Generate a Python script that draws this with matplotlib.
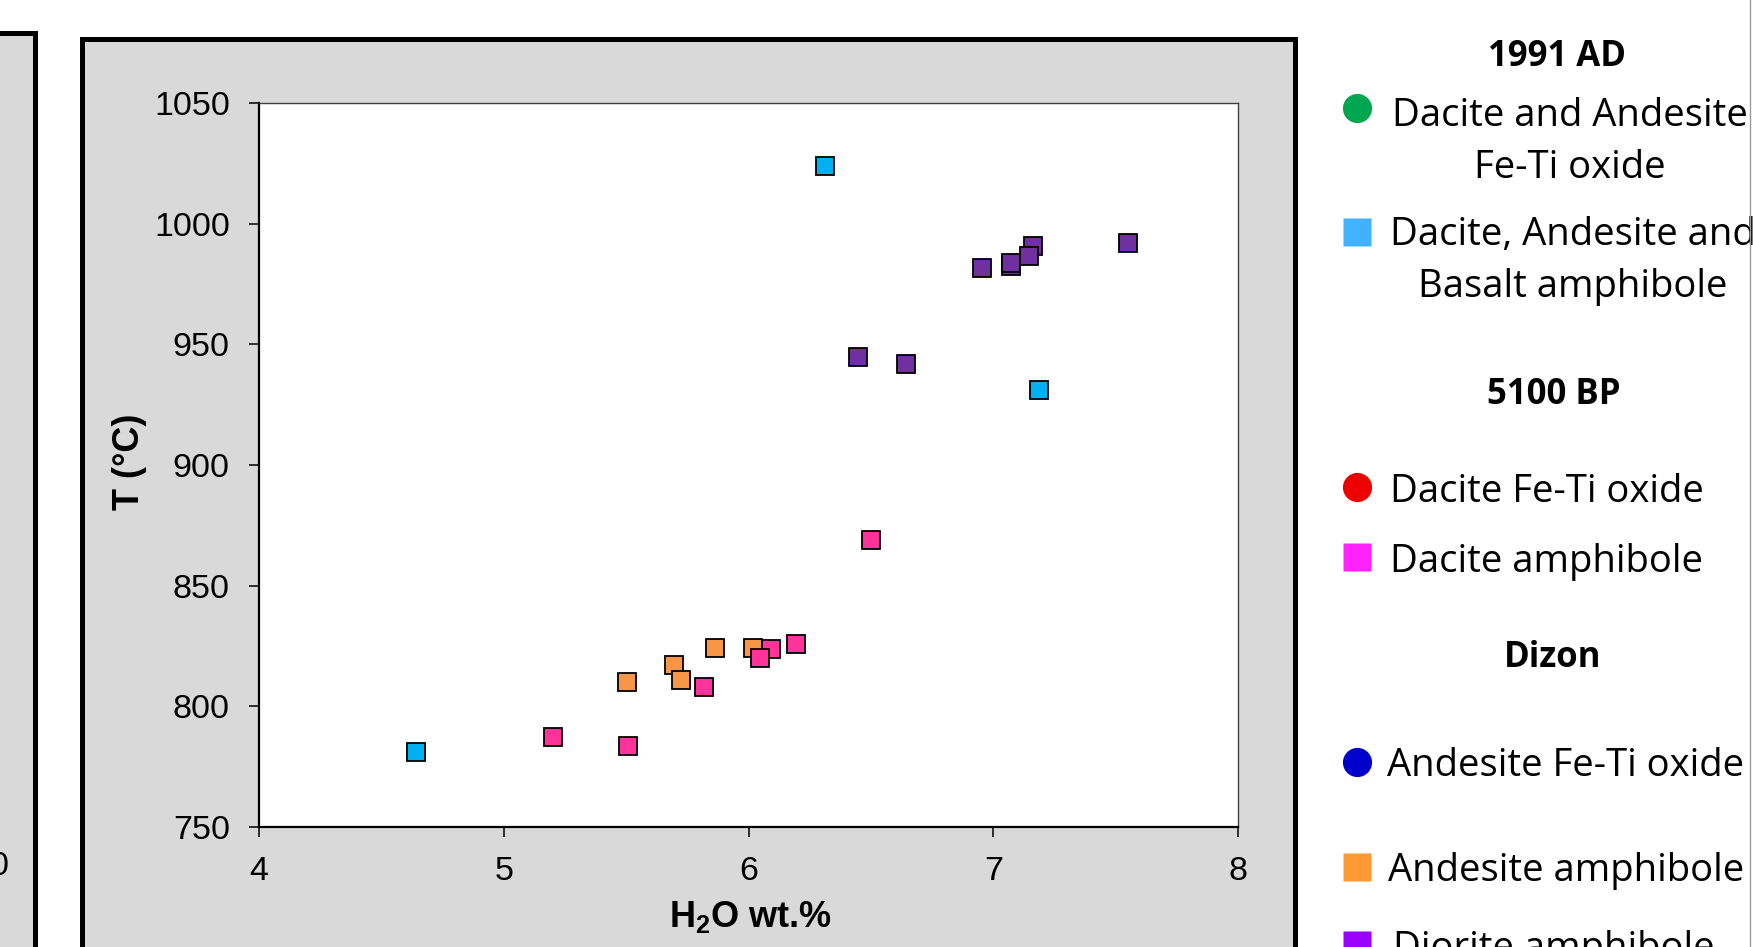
import numpy as np
import matplotlib.pyplot as plt
from matplotlib.patches import Rectangle
from matplotlib.lines import Line2D

plt.rcParams['font.family'] = ['Liberation Sans', 'DejaVu Sans']
plt.rcParams['mathtext.fontset'] = 'custom'
plt.rcParams['mathtext.rm'] = 'Liberation Sans'
plt.rcParams['mathtext.bf'] = 'Liberation Sans:bold'

# data
pin_x = [4.642, 6.314, 7.187]
pin_y = [780.9, 1023.8, 931.2]
and_x = [5.503, 5.695, 5.724, 5.862, 6.020]
and_y = [810.2, 817.1, 811.0, 824.0, 824.3]
dac_x = [5.201, 5.509, 5.817, 6.195, 6.093, 6.049, 6.499]
dac_y = [787.4, 783.4, 808.1, 825.7, 823.9, 819.9, 868.8]
dio_x = [6.447, 6.643, 6.956, 7.072, 7.072, 7.161, 7.145, 7.551]
dio_y = [944.6, 941.7, 981.5, 982.3, 983.8, 990.7, 986.6, 992.1]

xticks = [4, 5, 6, 7, 8]
yticks = [750, 800, 850, 900, 950, 1000, 1050]

# legend contents
headings = ["1991 AD", "5100 BP", "Dizon"]
leg_labels = ["Dacite and Andesite\nFe-Ti oxide", "Dacite, Andesite and\nBasalt amphibole",
              "Dacite Fe-Ti oxide", "Dacite amphibole",
              "Andesite Fe-Ti oxide", "Andesite amphibole", "Diorite amphibole"]
leg_markers = ['o', 's', 'o', 's', 'o', 's', 's']
leg_colors = ['#00A650', '#40B2FF', '#EE0000', '#FF22FF', '#0000CC', '#FF9933', '#9900FF']

W, H = 1753, 947
fig = plt.figure(figsize=(W / 100, H / 100), dpi=100)

# gray panels (left one is the edge of the neighbouring plot)
fig.add_artist(Rectangle((-60 / W, -0.2), 94.5 / W, 1.2 - 33 / H, transform=fig.transFigure,
                         facecolor='#D9D9D9', edgecolor='black', lw=3.6, zorder=0))
fig.add_artist(Rectangle((82 / W, -0.2), (1295 - 82) / W, 1.2 - 39 / H, transform=fig.transFigure,
                         facecolor='#D9D9D9', edgecolor='black', lw=3.6, zorder=0))
fig.text(9 / W, 1 - 866 / H, "0", ha='right', va='center', fontsize=24.5)
fig.add_artist(Line2D([1750 / W, 1750 / W], [0, 1], transform=fig.transFigure, color='#999999', lw=1))

ax = fig.add_axes([259 / W, 1 - 827 / H, (1238 - 259) / W, (827 - 103) / H])
ax.set_facecolor('white')

ms = 13
ax.plot(pin_x, pin_y, 's', ms=ms, mfc='#00B0F0', mec='black', mew=1.3, ls='none', zorder=3)
ax.plot(and_x, and_y, 's', ms=ms, mfc='#F79646', mec='black', mew=1.3, ls='none', zorder=3)
ax.plot(dac_x, dac_y, 's', ms=ms, mfc='#FF3399', mec='black', mew=1.3, ls='none', zorder=3)
ax.plot(dio_x, dio_y, 's', ms=ms, mfc='#7030A0', mec='black', mew=1.3, ls='none', zorder=3)

ax.set_xlim(4, 8)
ax.set_ylim(750, 1050)
ax.set_xticks(xticks)
ax.set_yticks(yticks)
ax.tick_params(direction='out', length=7, width=1.1, labelsize=24.5, pad=14, color='black')
for s in ['left', 'bottom']:
    ax.spines[s].set_linewidth(1.6)
    ax.spines[s].set_color('black')
for s in ['top', 'right']:
    ax.spines[s].set_linewidth(1.0)
    ax.spines[s].set_color('#404040')

ax.set_xlabel(r'H$_\mathbf{2}$O wt.%', fontsize=26, fontweight='bold', va='center')
ax.xaxis.set_label_coords(0.5015, -0.124)
ax.set_ylabel('T (°C)', fontsize=26, fontweight='bold', va='center')
ax.yaxis.set_label_coords(-0.132, 0.504)

# legend drawn in pixel space
lax = fig.add_axes([1300 / W, 0, (W - 1300) / W, 1])
lax.set_xlim(1300, W)
lax.set_ylim(H, 0)
lax.axis('off')

head_y = [57, 395, 658]
head_x = [1557, 1554, 1553]
for t, x, y in zip(headings, head_x, head_y):
    lax.text(x, y, t, ha='center', va='center', fontsize=25, fontweight='bold',
             family=['Open Sans', 'DejaVu Sans'])

entry_y = [108, 232, 487, 557, 762, 867, 945]
text_y = [142, 261, 492, 562, 766, 871, 949]
text_x = [1392, 1390, 1390, 1390, 1387, 1388, 1393]
for lab, m, c, my, ty, tx in zip(leg_labels, leg_markers, leg_colors, entry_y, text_y, text_x):
    lax.plot([1357], [my], m, ms=21 if m == 'o' else 19.5, color=c, mec='none', clip_on=False)
    lax.text(tx, ty, lab, ha='left', va='center', multialignment='center', fontsize=27.5,
             linespacing=1.45, family=['Open Sans', 'DejaVu Sans'])

fig.savefig('out.png', dpi=100)
